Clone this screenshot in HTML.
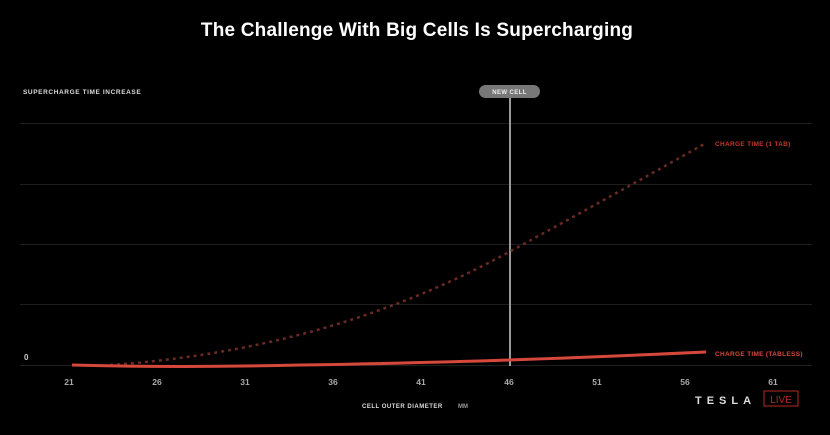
<!DOCTYPE html>
<html><head><meta charset="utf-8"><style>
body{margin:0;background:#000;width:830px;height:430px;overflow:hidden;font-family:"Liberation Sans",sans-serif}
</style></head><body>
<svg width="830" height="430" xmlns="http://www.w3.org/2000/svg" font-family="Liberation Sans, sans-serif">
<rect width="830" height="430" fill="#000"/>
<text x="417" y="36" fill="#fff" font-size="19" font-weight="bold" text-anchor="middle" letter-spacing="0.2">The Challenge With Big Cells Is Supercharging</text>
<text x="23" y="94" fill="#ddd" font-size="6.5" font-weight="bold" letter-spacing="0.6">SUPERCHARGE TIME INCREASE</text>
<g stroke="#1e1e1e" stroke-width="1">
<line x1="20" y1="123.5" x2="812" y2="123.5"/>
<line x1="20" y1="184.5" x2="812" y2="184.5"/>
<line x1="20" y1="244.5" x2="812" y2="244.5"/>
<line x1="20" y1="304.5" x2="812" y2="304.5"/>
<line x1="20" y1="365.5" x2="812" y2="365.5"/>
</g>
<text x="24" y="360" fill="#ccc" font-size="8" font-weight="bold">0</text>
<g fill="#aaa" font-size="8.5" font-weight="bold" text-anchor="middle">
<text x="69" y="385">21</text><text x="157" y="385">26</text><text x="245" y="385">31</text><text x="333" y="385">36</text><text x="421" y="385">41</text><text x="509" y="385">46</text><text x="597" y="385">51</text><text x="685" y="385">56</text><text x="773" y="385">61</text>
</g>
<text x="362" y="408" fill="#ddd" font-size="6" font-weight="bold" letter-spacing="0.5">CELL OUTER DIAMETER</text>
<text x="458" y="408" fill="#999" font-size="6" font-weight="bold">MM</text>
<line x1="510" y1="96" x2="510" y2="366" stroke="#999" stroke-width="2"/>
<rect x="479" y="85" width="61" height="13" rx="6.5" fill="#777"/>
<text x="509.5" y="94" fill="#eee" font-size="6" font-weight="bold" text-anchor="middle" letter-spacing="0.4">NEW CELL</text>
<path d="M110,365 Q330,350 509,252 Q610,197 706,143" fill="none" stroke="#6a2a24" stroke-width="2.5" stroke-dasharray="3,4"/>
<path d="M72,365 Q180,368 300,365 Q420,363 509,360 Q620,356 706,352" fill="none" stroke="#d6483c" stroke-width="3"/>
<text x="715" y="146" fill="#c0392b" font-size="6.5" font-weight="bold" letter-spacing="0.3">CHARGE TIME (1 TAB)</text>
<text x="715" y="356" fill="#d6483c" font-size="6.5" font-weight="bold" letter-spacing="0.3">CHARGE TIME (TABLESS)</text>
<text x="695" y="404" fill="#ddd" font-size="11" font-weight="bold" letter-spacing="5">TESLA</text>
<rect x="764" y="391" width="34" height="15" fill="none" stroke="#b02a22" stroke-width="1"/>
<text x="781" y="403" fill="#b02a22" font-size="10" text-anchor="middle">LIVE</text>
</svg>
</body></html>
